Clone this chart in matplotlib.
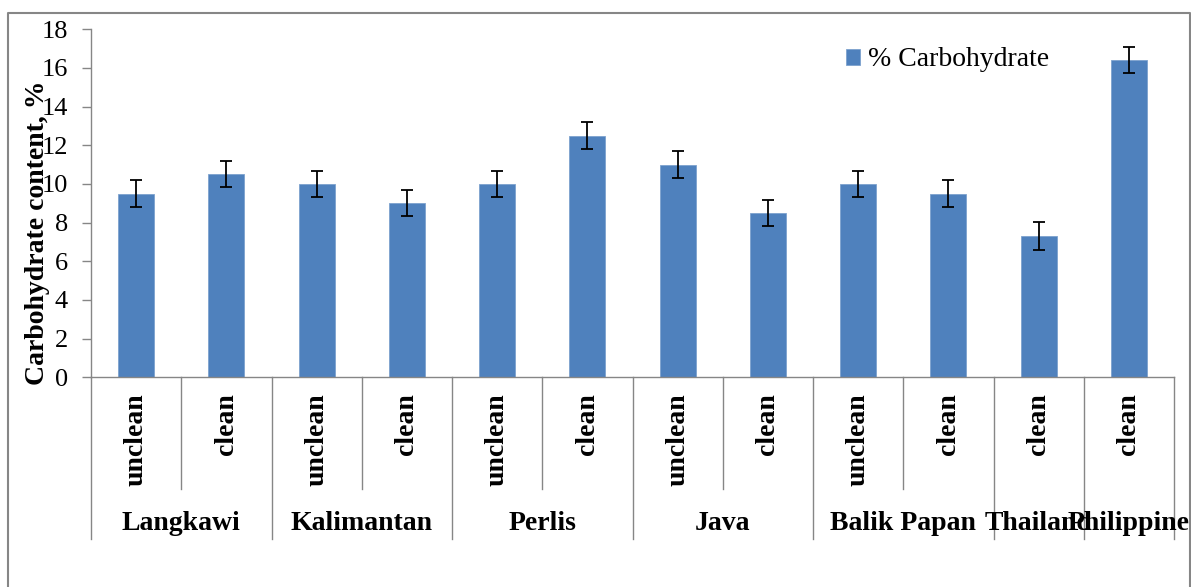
import numpy as np
import matplotlib
matplotlib.use("Agg")
import matplotlib.pyplot as plt
from matplotlib.lines import Line2D

# data
groups = ["Langkawi", "Kalimantan", "Perlis", "Java", "Balik Papan", "Thailand", "Philippine"]
group_sizes = [2, 2, 2, 2, 2, 1, 1]
treatments = ["unclean", "clean", "unclean", "clean", "unclean", "clean",
              "unclean", "clean", "unclean", "clean", "clean", "clean"]
carbs = [9.5, 10.5, 10.0, 9.0, 10.0, 12.5, 11.0, 8.5, 10.0, 9.5, 7.3, 16.4]
errors = [0.68, 0.68, 0.68, 0.68, 0.68, 0.68, 0.68, 0.68, 0.68, 0.68, 0.72, 0.67]

plt.rcParams['font.family'] = ['Liberation Serif', 'DejaVu Serif']
W, H = 1191, 587
fig = plt.figure(figsize=(W / 100, H / 100), dpi=100)
ax = fig.add_axes([91 / W, 1 - 377.3 / H, (1174 - 91) / W, (377.3 - 29.3) / H])

grey = "#868686"
x = np.arange(len(carbs))
bars = ax.bar(x, carbs, width=0.4, color="#4F81BD", edgecolor="#7DA2CE", linewidth=0.6,
              label="% Carbohydrate", zorder=2)
ax.errorbar(x, carbs, yerr=errors, fmt="none", ecolor="black", elinewidth=1.3,
            capsize=4.5, capthick=1.3, zorder=3)

ax.set_xlim(-0.5, len(carbs) - 0.5)
ax.set_ylim(0, 18)
ax.set_yticks(np.arange(0, 19, 2))
ax.set_xticks([])
ax.tick_params(axis="y", direction="out", length=6.5, width=1, color=grey, pad=10, labelsize=19)
for s in ["top", "right"]:
    ax.spines[s].set_visible(False)
for s in ["left", "bottom"]:
    ax.spines[s].set_color(grey)
    ax.spines[s].set_linewidth(1)

# category axis: sub labels, group labels and separators
tr = ax.get_xaxis_transform()
sub_end = -0.321
grp_end = -0.465
for i, t in enumerate(treatments):
    ax.text(i, -0.045, t, rotation=90, ha="center", va="top", fontsize=20,
            fontweight="bold", transform=tr)
edges = np.concatenate([[0], np.cumsum(group_sizes)]) - 0.5
for b in np.arange(-0.5, len(carbs)):
    long = np.any(np.isclose(edges, b))
    ax.plot([b, b], [0, grp_end if long else sub_end], color=grey, lw=1,
            transform=tr, clip_on=False)
for g, lo, hi in zip(groups, edges[:-1], edges[1:]):
    ax.text((lo + hi) / 2, -0.419, g, ha="center", va="center", fontsize=20,
            fontweight="bold", transform=tr)

fig.text(38 / W, 1 - 233 / H, "Carbohydrate content, %", rotation=90, ha="center",
         va="center", fontsize=20, fontweight="bold")

fig.legend(handles=[bars], loc="center left", bbox_to_anchor=(846 / W, 1 - 60 / H),
           frameon=False, fontsize=20, handlelength=0.5, handleheight=0.5,
           handletextpad=0.3, borderpad=0, borderaxespad=0)

# outer frame
fx0, fx1, fy1 = 8 / W, 1190 / W, 1 - 13 / H
fig.add_artist(Line2D([fx0, fx0, fx1, fx1], [-0.05, fy1, fy1, -0.05], color=grey, lw=1.5))

fig.savefig("out.png", dpi=100)
